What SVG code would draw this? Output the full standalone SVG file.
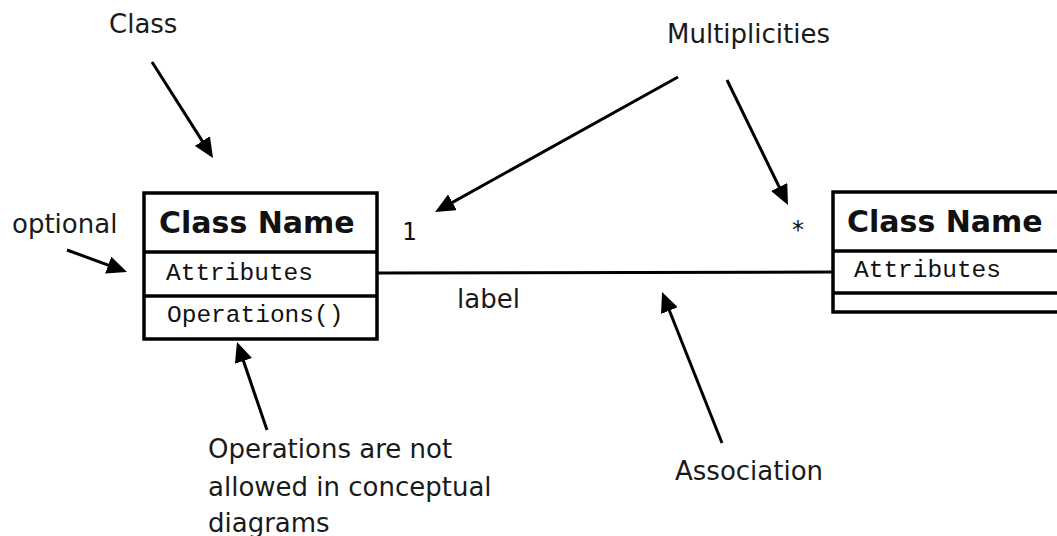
<svg xmlns="http://www.w3.org/2000/svg" width="1057" height="536" viewBox="0 0 1057 536">
  <style>
    .box { fill: #ffffff; stroke: #000000; stroke-width: 3.5; }
    .div { stroke: #000000; stroke-width: 3.5; }
    .title { font-family: "DejaVu Sans", "Liberation Sans", sans-serif; font-size: 30px; font-weight: bold; fill: #111111; }
    .mono { font-family: "Liberation Mono", "DejaVu Sans Mono", monospace; font-size: 24.5px; fill: #111111; }
    .note { font-family: "DejaVu Sans", "Liberation Sans", sans-serif; font-size: 26px; fill: #1a1a1a; }
    .mult { font-family: "DejaVu Sans Mono", "Liberation Mono", monospace; font-size: 24px; fill: #111111; }
    .assoc { stroke: #000000; stroke-width: 3; fill: none; }
    .pointer { stroke: #000000; stroke-width: 3; fill: none; marker-end: url(#head); }
  </style>
  <defs>
    <marker id="head" viewBox="0 0 20 18" refX="16" refY="9" markerWidth="20" markerHeight="18" markerUnits="userSpaceOnUse" orient="auto">
      <path d="M0,0 L20,9 L0,18 Z" fill="#000000"/>
    </marker>
  </defs>

  <rect width="1057" height="536" fill="#ffffff"/>

  <!-- association between the two classes -->
  <g id="connectors">
    <line class="assoc" x1="378" y1="273" x2="833" y2="272"/>
    <!-- annotation pointers -->
    <line class="pointer" x1="152" y1="62" x2="210.9" y2="154.6"/>
    <line class="pointer" x1="67" y1="250" x2="123.2" y2="270.6"/>
    <line class="pointer" x1="678" y1="77" x2="438.5" y2="210.1"/>
    <line class="pointer" x1="727" y1="80" x2="786.2" y2="201.4"/>
    <line class="pointer" x1="267" y1="430" x2="238.3" y2="345.8"/>
    <line class="pointer" x1="722" y1="443" x2="663.5" y2="295.7"/>
  </g>

  <!-- left class -->
  <g id="class-left">
    <rect class="box" x="144" y="193" width="233" height="146"/>
    <line class="div" x1="144" y1="252" x2="377" y2="252"/>
    <line class="div" x1="144" y1="296" x2="377" y2="296"/>
    <text class="title" x="159" y="233">Class Name</text>
    <text class="mono" x="166" y="280">Attributes</text>
    <text class="mono" x="167" y="322">Operations()</text>
  </g>

  <!-- right class -->
  <g id="class-right">
    <rect class="box" x="833" y="192" width="240" height="120"/>
    <line class="div" x1="833" y1="251" x2="1073" y2="251"/>
    <line class="div" x1="833" y1="293" x2="1073" y2="293"/>
    <text class="title" x="847" y="232">Class Name</text>
    <text class="mono" x="854" y="277">Attributes</text>
  </g>

  <!-- multiplicities and association label -->
  <g id="end-labels">
    <text class="mult" x="402" y="240">1</text>
    <text class="mult" x="798" y="238" text-anchor="middle">*</text>
    <text class="note" x="457" y="308">label</text>
  </g>

  <!-- annotations -->
  <g id="notes">
    <text class="note" x="109" y="33">Class</text>
    <text class="note" x="667" y="43">Multiplicities</text>
    <text class="note" x="12" y="233">optional</text>
    <text class="note" x="675" y="480">Association</text>
    <text class="note" x="208" y="458">Operations are not</text>
    <text class="note" x="208" y="496">allowed in conceptual</text>
    <text class="note" x="208" y="532">diagrams</text>
  </g>
</svg>
